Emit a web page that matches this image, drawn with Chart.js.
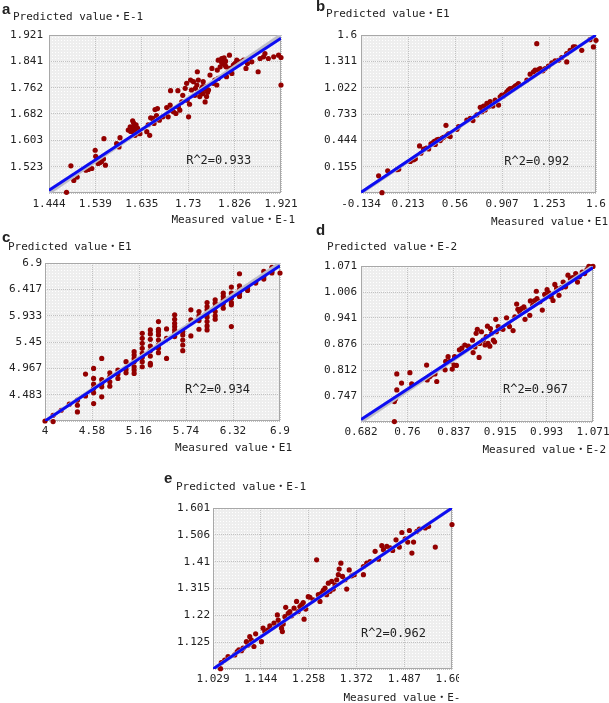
<!DOCTYPE html>
<html>
<head>
<meta charset="utf-8">
<script src="https://cdn.jsdelivr.net/npm/chart.js@4.4.1/dist/chart.umd.min.js"></script>
<style>
  body { margin: 0; background: #fff; }
  #wrap { position: relative; width: 609px; height: 703px; overflow: hidden; }
  canvas { position: absolute; }
</style>
</head>
<body>
<div id="wrap">
  <canvas id="chartA" width="300" height="230" style="left:0;top:0"></canvas>
  <canvas id="chartB" width="309" height="230" style="left:300px;top:0"></canvas>
  <canvas id="chartC" width="300" height="230" style="left:0;top:230px"></canvas>
  <canvas id="chartD" width="309" height="245" style="left:300px;top:215px"></canvas>
  <canvas id="chartE" width="309" height="243" style="left:150px;top:460px"></canvas>
</div>
<script>
// --- a ---
const xTicksA = ['1.444', '1.539', '1.635', '1.73', '1.826', '1.921'];
const yTicksA = ['1.444', '1.523', '1.603', '1.682', '1.762', '1.841', '1.921'];
const measA = [1.480, 1.489, 1.495, 1.502, 1.520, 1.525, 1.532, 1.539, 1.540, 1.542, 1.545, 1.549, 1.552, 1.556, 1.557, 1.560, 1.547,
  1.583, 1.588, 1.590, 1.607, 1.611, 1.614, 1.616, 1.617, 1.619, 1.621, 1.624, 1.628, 1.631, 1.623, 1.612, 1.618, 1.626,
  1.645, 1.651, 1.648, 1.653, 1.657, 1.660, 1.665, 1.671, 1.678, 1.662, 1.667, 1.686, 1.689, 1.693, 1.696, 1.700, 1.694,
  1.705, 1.709, 1.710, 1.713, 1.717, 1.719, 1.724, 1.727, 1.728, 1.731, 1.733, 1.735, 1.737, 1.741, 1.744, 1.745, 1.748,
  1.749, 1.751, 1.753, 1.754, 1.758, 1.760, 1.760, 1.761, 1.763, 1.765, 1.767, 1.768, 1.770, 1.772, 1.775, 1.779, 1.782,
  1.785, 1.789, 1.790, 1.792, 1.792, 1.796, 1.799, 1.799, 1.801, 1.802, 1.803, 1.804, 1.806, 1.807, 1.808, 1.809, 1.813,
  1.815, 1.816, 1.820, 1.823, 1.826, 1.830, 1.837, 1.844, 1.849, 1.852, 1.861, 1.874, 1.878, 1.885, 1.888, 1.895, 1.906,
  1.916, 1.921, 1.921];
const predA = [1.446, 1.526, 1.482, 1.492, 1.513, 1.515, 1.518, 1.573, 1.555, 1.543, 1.533, 1.536, 1.539, 1.547, 1.608, 1.528, 1.545,
  1.593, 1.583, 1.611, 1.634, 1.644, 1.639, 1.662, 1.629, 1.644, 1.618, 1.636, 1.629, 1.623, 1.650, 1.630, 1.655, 1.640,
  1.629, 1.618, 1.650, 1.671, 1.669, 1.654, 1.678, 1.664, 1.674, 1.696, 1.699, 1.702, 1.674, 1.709, 1.694, 1.689, 1.753,
  1.684, 1.753, 1.704, 1.694, 1.719, 1.739, 1.760, 1.775, 1.724, 1.674, 1.712, 1.785, 1.755, 1.780, 1.739, 1.760, 1.770,
  1.810, 1.785, 1.750, 1.735, 1.760, 1.744, 1.765, 1.780, 1.757, 1.719, 1.765, 1.735, 1.748, 1.755, 1.800, 1.820, 1.775,
  1.785, 1.770, 1.815, 1.790, 1.845, 1.825, 1.850, 1.838, 1.840, 1.835, 1.845, 1.852, 1.830, 1.842, 1.825, 1.795, 1.810,
  1.860, 1.820, 1.805, 1.830, 1.835, 1.845, 1.840, 1.845, 1.820, 1.835, 1.840, 1.810, 1.850, 1.855, 1.865, 1.850, 1.855,
  1.860, 1.853, 1.770];
const fitA = [1.452, 1.911];

// --- b ---
const xTicksB = ['-0.134', '0.213', '0.56', '0.907', '1.253', '1.6'];
const yTicksB = ['-0.134', '0.155', '0.444', '0.733', '1.022', '1.311', '1.6'];
const measB = [-0.004, 0.021, 0.063, 0.131, 0.144, 0.230, 0.254, 0.267, 0.298, 0.308, 0.328, 0.348, 0.365, 0.382, 0.397,
  0.407, 0.414, 0.426, 0.438, 0.451, 0.463, 0.475, 0.493, 0.500, 0.512, 0.524, 0.574, 0.586, 0.647, 0.672, 0.692, 0.721,
  0.746, 0.758, 0.770, 0.782, 0.795, 0.807, 0.819, 0.839, 0.856, 0.881, 0.893, 0.905, 0.918, 0.930, 0.942, 0.954, 0.967,
  0.979, 0.991, 1.004, 1.016, 1.028, 1.090, 1.114, 1.139, 1.151, 1.163, 1.176, 1.188, 1.208, 1.225, 1.249, 1.274, 1.298,
  1.323, 1.347, 1.384, 1.384, 1.409, 1.433, 1.446, 1.495, 1.556, 1.581, 1.600];
const predB = [0.055, -0.130, 0.110, 0.121, 0.128, 0.212, 0.230, 0.241, 0.383, 0.302, 0.347, 0.358, 0.350, 0.405, 0.416,
  0.434, 0.398, 0.449, 0.456, 0.441, 0.467, 0.478, 0.609, 0.496, 0.514, 0.485, 0.565, 0.595, 0.667, 0.686, 0.661, 0.723,
  0.806, 0.758, 0.820, 0.777, 0.850, 0.813, 0.868, 0.820, 0.886, 0.831, 0.922, 0.941, 0.930, 0.952, 0.977, 0.995, 1.013,
  1.002, 1.024, 1.039, 1.050, 1.068, 1.105, 1.170, 1.196, 1.214, 1.505, 1.221, 1.232, 1.207, 1.232, 1.258, 1.294, 1.316,
  1.323, 1.352, 1.305, 1.396, 1.432, 1.469, 1.469, 1.432, 1.549, 1.469, 1.542];
const fitB = [-0.127, 1.600];

// --- c ---
const xTicksC = ['4', '4.58', '5.16', '5.74', '6.32', '6.9'];
const yTicksC = ['4', '4.483', '4.967', '5.45', '5.933', '6.417', '6.9'];
const measC = [
  4.0, 4.1, 4.1, 4.2, 4.3, 4.4, 4.4, 4.4, 4.5, 4.5,
  4.6, 4.6, 4.6, 4.6, 4.6, 4.6, 4.7, 4.7, 4.7, 4.7, 4.7,
  4.8, 4.8, 4.8, 4.8, 4.9, 4.9, 4.9, 5.0, 5.0, 5.0,
  5.1, 5.1, 5.1, 5.1, 5.1, 5.1, 5.1,
  5.2, 5.2, 5.2, 5.2, 5.2, 5.2, 5.2, 5.2,
  5.3, 5.3, 5.3, 5.3, 5.3, 5.3, 5.3, 5.3,
  5.4, 5.4, 5.4, 5.4, 5.4, 5.4, 5.4, 5.4,
  5.5, 5.5, 5.5, 5.6, 5.6, 5.6, 5.6, 5.6, 5.6, 5.6,
  5.7, 5.7, 5.7, 5.7, 5.7, 5.8, 5.8, 5.8, 5.9, 5.9, 5.9, 5.9,
  6.0, 6.0, 6.0, 6.0, 6.0, 6.0, 6.0, 6.0,
  6.1, 6.1, 6.1, 6.1, 6.1, 6.1, 6.2, 6.2, 6.2, 6.2, 6.2,
  6.3, 6.3, 6.3, 6.3, 6.3, 6.3, 6.4, 6.4, 6.4, 6.4, 6.4,
  6.5, 6.5, 6.6, 6.6, 6.7, 6.7, 6.7, 6.8, 6.8, 6.8, 6.9];
const predC = [
  4.000, 3.990, 4.105, 4.197, 4.308, 4.382, 4.289, 4.167, 4.861, 4.461,
  4.965, 4.781, 4.676, 4.597, 4.517, 4.320, 5.149, 4.762, 4.689, 4.627, 4.443,
  4.885, 4.812, 4.719, 4.640, 4.935, 4.861, 4.781, 5.088, 4.947, 4.885,
  5.272, 5.211, 5.149, 5.088, 4.996, 4.935, 4.873,
  5.610, 5.518, 5.426, 5.334, 5.241, 5.168, 5.088, 4.996,
  5.671, 5.598, 5.500, 5.377, 5.291, 5.192, 5.057, 5.027,
  5.825, 5.684, 5.641, 5.579, 5.487, 5.395, 5.334, 5.254,
  5.690, 5.518, 5.149, 5.948, 5.868, 5.794, 5.733, 5.671, 5.610, 5.549,
  5.641, 5.579, 5.487, 5.395, 5.291, 6.040, 5.856, 5.561, 6.009, 5.929, 5.843, 5.684,
  6.175, 6.101, 6.040, 5.979, 5.905, 5.825, 5.745, 5.671,
  6.224, 6.163, 6.089, 6.009, 5.929, 5.868, 6.347, 6.286, 6.224, 6.151, 6.071,
  6.458, 6.347, 6.255, 6.175, 6.132, 5.733, 6.703, 6.482, 6.409, 6.347, 6.286,
  6.439, 6.396, 6.562, 6.531, 6.746, 6.654, 6.605, 6.820, 6.746, 6.716, 6.716];
const fitC = [4.000, 6.851];

// --- d ---
const xTicksD = ['0.682', '0.76', '0.837', '0.915', '0.993', '1.071'];
const yTicksD = ['0.682', '0.747', '0.812', '0.876', '0.941', '1.006', '1.071'];
const measD = [0.738, 0.738, 0.740, 0.742, 0.742, 0.750, 0.764, 0.767, 0.792, 0.793, 0.797, 0.800, 0.806, 0.809, 0.823,
  0.824, 0.828, 0.831, 0.835, 0.838, 0.842, 0.839, 0.847, 0.851, 0.856, 0.862, 0.869, 0.870, 0.873, 0.875, 0.877, 0.880,
  0.881, 0.884, 0.887, 0.890, 0.892, 0.894, 0.895, 0.898, 0.899, 0.901, 0.904, 0.906, 0.908, 0.909, 0.912, 0.915, 0.920,
  0.926, 0.929, 0.931, 0.937, 0.940, 0.943, 0.945, 0.948, 0.951, 0.955, 0.957, 0.959, 0.965, 0.966, 0.970, 0.973, 0.976,
  0.977, 0.982, 0.986, 0.990, 0.994, 0.997, 1.001, 1.004, 1.007, 1.010, 1.014, 1.018, 1.021, 1.025, 1.029, 1.033, 1.037,
  1.042, 1.045, 1.048, 1.053, 1.057, 1.061, 1.064, 1.068, 1.071];
const predD = [0.683, 0.733, 0.740, 0.762, 0.802, 0.779, 0.805, 0.777, 0.824, 0.787, 0.795, 0.799, 0.802, 0.783, 0.812,
  0.833, 0.845, 0.833, 0.814, 0.824, 0.823, 0.845, 0.862, 0.866, 0.874, 0.871, 0.886, 0.855, 0.869, 0.903, 0.913, 0.843,
  0.878, 0.907, 0.886, 0.874, 0.895, 0.921, 0.878, 0.871, 0.915, 0.903, 0.886, 0.882, 0.938, 0.907, 0.920, 0.915, 0.913,
  0.942, 0.926, 0.920, 0.910, 0.944, 0.976, 0.963, 0.957, 0.965, 0.969, 0.938, 0.961, 0.948, 0.984, 0.973, 0.985, 1.008,
  0.990, 0.982, 0.961, 1.000, 1.012, 1.004, 0.994, 0.985, 1.025, 1.015, 0.998, 1.017, 1.031, 1.019, 1.048, 1.040, 1.042,
  1.052, 1.031, 1.044, 1.056, 1.052, 1.062, 1.070, 1.069, 1.070];
const fitD = [0.688, 1.067];

// --- e ---
const xTicksE = ['1.029', '1.144', '1.258', '1.372', '1.487', '1.601'];
const yTicksE = ['1.029', '1.125', '1.22', '1.315', '1.41', '1.506', '1.601'];
const measE = [1.047, 1.049, 1.057, 1.065, 1.081, 1.087, 1.091, 1.097, 1.101, 1.109, 1.113, 1.117, 1.121, 1.127, 1.131,
  1.145, 1.149, 1.153, 1.161, 1.165, 1.175, 1.183, 1.185, 1.189, 1.193, 1.195, 1.197, 1.201, 1.203, 1.209, 1.213, 1.217,
  1.223, 1.229, 1.233, 1.237, 1.241, 1.245, 1.247, 1.251, 1.257, 1.261, 1.269, 1.277, 1.281, 1.285, 1.289, 1.293, 1.297,
  1.301, 1.305, 1.309, 1.313, 1.317, 1.321, 1.325, 1.329, 1.331, 1.335, 1.339, 1.345, 1.349, 1.355, 1.361, 1.367, 1.389,
  1.389, 1.397, 1.405, 1.417, 1.425, 1.433, 1.437, 1.445, 1.453, 1.459, 1.467, 1.475, 1.481, 1.489, 1.495, 1.499, 1.505,
  1.509, 1.517, 1.523, 1.537, 1.545, 1.561, 1.601];
const predE = [1.030, 1.052, 1.061, 1.073, 1.079, 1.091, 1.097, 1.094, 1.103, 1.126, 1.114, 1.144, 1.132, 1.109, 1.154,
  1.126, 1.174, 1.162, 1.168, 1.182, 1.192, 1.221, 1.203, 1.189, 1.174, 1.162, 1.189, 1.215, 1.248, 1.227, 1.233, 1.218,
  1.245, 1.269, 1.233, 1.251, 1.257, 1.265, 1.206, 1.242, 1.286, 1.284, 1.275, 1.417, 1.293, 1.269, 1.299, 1.308, 1.316,
  1.293, 1.334, 1.305, 1.340, 1.313, 1.328, 1.346, 1.364, 1.384, 1.405, 1.358, 1.346, 1.313, 1.381, 1.360, 1.364, 1.393,
  1.364, 1.405, 1.411, 1.447, 1.419, 1.467, 1.453, 1.465, 1.459, 1.450, 1.488, 1.462, 1.514, 1.491, 1.480, 1.521, 1.441,
  1.480, 1.518, 1.526, 1.530, 1.536, 1.462, 1.542];
const fitE = [1.029, 1.601];

const MONO = "'DejaVu Sans Mono', 'Noto Sans CJK SC', monospace";
Chart.defaults.font.family = MONO;
Chart.defaults.font.size = 11;
Chart.defaults.color = '#222';

// dotted light-grey fill of the plot, like the original
const tile = document.createElement('canvas');
tile.width = 3; tile.height = 3;
const tctx = tile.getContext('2d');
tctx.fillStyle = '#eeeeee';
tctx.fillRect(0, 0, 3, 3);
tctx.fillStyle = '#ffffff';
tctx.fillRect(1, 1, 1, 1);

const plotFrame = {
  id: 'plotFrame',
  beforeDraw(chart) {
    const { ctx, chartArea: a } = chart;
    ctx.save();
    ctx.fillStyle = ctx.createPattern(tile, 'repeat');
    ctx.fillRect(a.left, a.top, a.right - a.left, a.bottom - a.top);
    ctx.restore();
  },
  beforeDatasetsDraw(chart) {
    const { ctx, chartArea: a } = chart;
    ctx.save();
    ctx.strokeStyle = '#a8a8a8';
    ctx.lineWidth = 1;
    ctx.strokeRect(a.left + 0.5, a.top + 0.5, a.right - a.left - 1, a.bottom - a.top - 1);
    ctx.restore();
  }
};

// panel letter, axis titles, R^2
const panelText = {
  id: 'panelText',
  afterDraw(chart, args, o) {
    const { ctx, chartArea: a } = chart;
    ctx.save();
    ctx.fillStyle = '#222';
    ctx.textBaseline = 'middle';
    ctx.textAlign = 'left';
    ctx.font = "bold 15px 'Liberation Sans', Arial, sans-serif";
    ctx.fillText(o.letter, a.left + o.letterAt[0], a.top + o.letterAt[1]);
    ctx.font = '11px ' + MONO;
    ctx.fillText(o.yTitle, a.left + o.yTitleAt[0], a.top + o.yTitleAt[1]);
    ctx.textAlign = 'right';
    ctx.fillText(o.xTitle, a.right + o.xTitleAt[0], a.bottom + o.xTitleAt[1]);
    ctx.textAlign = 'left';
    ctx.font = '12px ' + MONO;
    ctx.fillText(o.r2, chart.scales.x.getPixelForValue(o.r2At[0]), chart.scales.y.getPixelForValue(o.r2At[1]));
    ctx.restore();
  }
};

const panels = [
  { id: 'chartA', meas: measA, pred: predA, xTicks: xTicksA, yTicks: yTicksA, fit: fitA,
    area: [49, 35, 281, 193], padX: 5, padY: 6,
    text: { letter: 'a', yTitle: 'Predicted value・E-1', xTitle: 'Measured value・E-1', r2: 'R^2=0.933', r2At: [1.726, 1.541],
            letterAt: [-47, -25], yTitleAt: [-36, -18], xTitleAt: [14, 27] } },
  { id: 'chartB', meas: measB, pred: predB, xTicks: xTicksB, yTicks: yTicksB, fit: fitB,
    area: [61, 35, 296, 193], padX: 5, padY: 4,
    text: { letter: 'b', yTitle: 'Predicted value・E1', xTitle: 'Measured value・E1', r2: 'R^2=0.992', r2At: [0.923, 0.205],
            letterAt: [-45, -28], yTitleAt: [-35, -21], xTitleAt: [12, 29] } },
  { id: 'chartC', meas: measC, pred: predC, xTicks: xTicksC, yTicks: yTicksC, fit: fitC,
    area: [45, 33, 280, 191], padX: 4, padY: 3,
    text: { letter: 'c', yTitle: 'Predicted value・E1', xTitle: 'Measured value・E1', r2: 'R^2=0.934', r2At: [5.728, 4.578],
            letterAt: [-43, -25], yTitleAt: [-37, -16], xTitleAt: [12, 27] } },
  { id: 'chartD', meas: measD, pred: predD, xTicks: xTicksD, yTicks: yTicksD, fit: fitD,
    area: [61, 51, 293, 207], padX: 4, padY: 4,
    text: { letter: 'd', yTitle: 'Predicted value・E-2', xTitle: 'Measured value・E-2', r2: 'R^2=0.967', r2At: [0.920, 0.761],
            letterAt: [-45, -35], yTitleAt: [-34, -19], xTitleAt: [13, 28] } },
  { id: 'chartE', meas: measE, pred: predE, xTicks: xTicksE, yTicks: yTicksE, fit: fitE,
    area: [63, 48, 302, 209], padX: 4, padY: 3,
    text: { letter: 'e', yTitle: 'Predicted value・E-1', xTitle: 'Measured value・E-1', r2: 'R^2=0.962', r2At: [1.383, 1.154],
            letterAt: [-49, -29], yTitleAt: [-37, -21], xTitleAt: [15, 29] } }
];

function makeChart(p) {
  const canvas = document.getElementById(p.id);
  const W = canvas.width, H = canvas.height;
  const [l, t, r, b] = p.area;
  const XH = 20;
  const xMin = +p.xTicks[0], xMax = +p.xTicks[p.xTicks.length - 1];
  const yMin = +p.yTicks[0], yMax = +p.yTicks[p.yTicks.length - 1];
  const even = (lo, hi, n) => Array.from({ length: n }, (_, i) => ({ value: lo + (hi - lo) * i / (n - 1) }));

  return new Chart(canvas, {
    type: 'scatter',
    data: {
      datasets: [
        {
          data: [{ x: xMin, y: p.fit[0] }, { x: xMax, y: p.fit[1] }],
          showLine: true, pointRadius: 0, borderColor: '#0c0cf2', borderWidth: 3, order: 0
        },
        {
          data: [{ x: xMin, y: yMin }, { x: xMax, y: yMax }],
          showLine: true, pointRadius: 0, borderColor: '#bcbcc6', borderWidth: 3.5, order: 1
        },
        {
          data: p.meas.map((x, i) => ({ x: x, y: p.pred[i] })),
          pointRadius: 2.6, pointBackgroundColor: '#930000', pointBorderWidth: 0,
          clip: false, order: 2
        }
      ]
    },
    options: {
      responsive: false,
      animation: false,
      layout: { padding: { left: 0, top: t, right: W - r, bottom: H - b - XH } },
      scales: {
        x: {
          type: 'linear', min: xMin, max: xMax,
          afterBuildTicks: (s) => { s.ticks = even(xMin, xMax, p.xTicks.length); },
          afterFit: (s) => { s.height = XH; s.paddingLeft = 0; s.paddingRight = 0; },
          ticks: { autoSkip: false, maxRotation: 0, padding: p.padX, callback: (v, i) => p.xTicks[i] },
          grid: { color: '#c2c2c2', drawTicks: false },
          border: { display: false, dash: [1, 1] }
        },
        y: {
          type: 'linear', min: yMin, max: yMax,
          afterBuildTicks: (s) => { s.ticks = even(yMin, yMax, p.yTicks.length); },
          afterFit: (s) => { s.width = l; s.paddingTop = 0; s.paddingBottom = 0; },
          ticks: { autoSkip: false, padding: p.padY, callback: (v, i) => (i === 0 ? '' : p.yTicks[i]) },
          grid: { color: '#c2c2c2', drawTicks: false },
          border: { display: false, dash: [1, 1] }
        }
      },
      plugins: {
        legend: { display: false },
        tooltip: { enabled: false },
        panelText: p.text
      }
    },
    plugins: [plotFrame, panelText]
  });
}

panels.forEach(makeChart);
</script>
</body>
</html>
